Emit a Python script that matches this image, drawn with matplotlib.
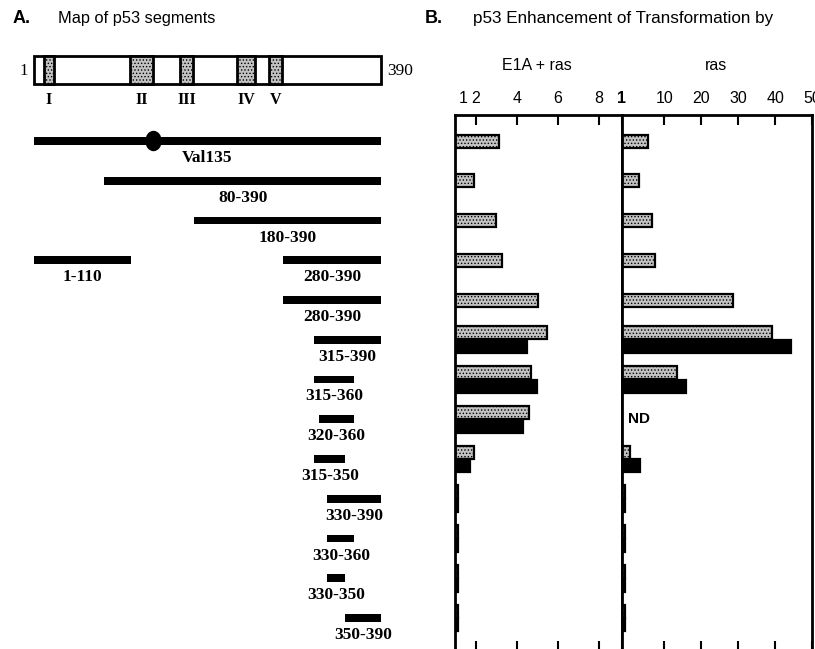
import matplotlib
matplotlib.use('Agg')
import matplotlib.pyplot as plt
from matplotlib.patches import Rectangle, Ellipse

plt.rcParams['font.family'] = ['Liberation Sans', 'DejaVu Sans']
plt.rcParams['hatch.color'] = '#6e6e6e'
plt.rcParams['hatch.linewidth'] = 0.6

# ---- panel A: p53 segments (residue numbers) ----
seg_row = [0, 1, 2, 3, 3, 4, 5, 6, 7, 8, 9, 10, 11, 12]
seg_start = [1, 80, 180, 1, 280, 280, 315, 315, 320, 315, 330, 330, 330, 350]
seg_end = [390, 390, 390, 110, 390, 390, 390, 360, 360, 350, 390, 360, 350, 390]
seg_label = ['Val135', '80-390', '180-390', '1-110', '280-390', '280-390',
             '315-390', '315-360', '320-360', '315-350', '330-390',
             '330-360', '330-350', '350-390']
mutation_site = 135
protein_len = 390

domain_names = ['I', 'II', 'III', 'IV', 'V']
domain_start = [12, 109, 165, 229, 264]
domain_end = [23, 134, 179, 249, 279]

# ---- panel B: enhancement of transformation (None = no bar) ----
rows = list(range(13))
e1a_gray = [3.1, 1.9, 2.95, 3.25, 5.0, 5.45, 4.7, 4.6, 1.9, 1.1, 1.1, 1.1, 1.1]
e1a_black = [None, None, None, None, None, 4.5, 4.95, 4.3, 1.7, 1.1, 1.1, 1.1, 1.1]
ras_gray = [5.6, 3.1, 6.6, 7.5, 28.6, 39.2, 13.4, None, 0.7, -0.6, -0.6, -0.6, -0.6]
ras_black = [None, None, None, None, None, 44.3, 15.9, None, 3.4, -0.6, -0.6, -0.6, -0.6]
nd_row = 7

e1a_ticks = [2, 4, 6, 8]
ras_ticks = [10, 20, 30, 40, 50]

W, H = 815, 649
GRAY = '#c2c2c2'


def fx(x):
    return x / W


def fy(y):
    return 1 - y / H


fig = plt.figure(figsize=(W / 100, H / 100), dpi=100)

# rows: row 0 at y=141px, 39.75px apart
row0, drow = 141, 39.75


def row_lim(top_px, bot_px):
    return ((bot_px - row0) / drow, (top_px - row0) / drow)


# ---------- panel A ----------
scale = 347 / 389
ax_a = fig.add_axes([0, 0, fx(440), 1])
ax_a.set_xlim((0 - 34) / scale + 1, (440 - 34) / scale + 1)
ax_a.set_ylim(*row_lim(0, H))
ax_a.axis('off')

box_y, box_h = (56 - row0) / drow, 28 / drow
ax_a.add_patch(Rectangle((1, box_y), protein_len - 1, box_h, facecolor='white',
                         edgecolor='black', lw=2))
for name, s, e in zip(domain_names, domain_start, domain_end):
    ax_a.add_patch(Rectangle((s, box_y), e - s, box_h, facecolor=GRAY,
                             hatch='.....', edgecolor='black', lw=2))
    ax_a.text((s + e) / 2, (103.5 - row0) / drow, name, ha='center', va='baseline',
              family='Liberation Serif', weight='bold', fontsize=11.5)
ax_a.text(-5.5, (75 - row0) / drow, '1', ha='right', va='baseline',
          family='Liberation Serif', fontsize=12)
ax_a.text(396.5, (75 - row0) / drow, str(protein_len), ha='left', va='baseline',
          family='Liberation Serif', fontsize=12.5)

bar_h = 7.7 / drow
for r, s, e, lab in zip(seg_row, seg_start, seg_end, seg_label):
    ax_a.barh(r, e - s, left=s, height=bar_h, color='black')
    ax_a.text((s + e) / 2, r + 21 / drow, lab, ha='center', va='baseline',
              family='Liberation Serif', weight='bold', fontsize=12.5)
ax_a.add_patch(Ellipse((mutation_site, 0), 15 / scale, 19 / drow, color='black'))

fig.text(fx(13), fy(23), 'A.', weight='bold', fontsize=13, va='baseline')
fig.text(fx(58), fy(22.5), 'Map of p53 segments', fontsize=11.8, va='baseline')

# ---------- panel B ----------
fig.text(fx(425), fy(23), 'B.', weight='bold', fontsize=13, va='baseline')
fig.text(fx(473), fy(23), 'p53 Enhancement of Transformation by', fontsize=12.3,
         va='baseline')

top_px, bot_px = 115, 651
ax_l = fig.add_axes([fx(455), fy(bot_px), fx(622 - 455), (bot_px - top_px) / H])
ax_r = fig.add_axes([fx(622), fy(bot_px), fx(812 - 622), (bot_px - top_px) / H])

L_BASE, R_BASE = 0.97, -1.5
ax_l.set_xlim(L_BASE, 9.12)
ax_r.set_xlim(R_BASE, 50)

bh, off = 13 / drow, 6.8 / drow


def draw_bars(ax, gray, black, base):
    for r, g, b in zip(rows, gray, black):
        if b is None:
            if g is not None:
                ax.barh(r, g - base, left=base, height=bh, facecolor=GRAY,
                        hatch='.....', edgecolor='black', lw=1.6)
        else:
            if g is not None:
                ax.barh(r - off, g - base, left=base, height=bh, facecolor=GRAY,
                        hatch='.....', edgecolor='black', lw=1.6)
            ax.barh(r + off, b - base, left=base, height=bh, facecolor='black',
                    edgecolor='black', lw=1.6)


draw_bars(ax_l, e1a_gray, e1a_black, L_BASE)
draw_bars(ax_r, ras_gray, ras_black, R_BASE)
ax_r.text(0.2, nd_row, 'ND', ha='left', va='center', weight='bold', fontsize=11)

for ax in (ax_l, ax_r):
    ax.set_ylim(*row_lim(top_px, bot_px))
    ax.set_yticks([])
    for sp in ax.spines.values():
        sp.set_linewidth(2)
    ax.tick_params(axis='x', direction='in', top=True, bottom=True,
                   labeltop=True, labelbottom=False, length=7.5, width=1.5,
                   pad=6.5, labelsize=11.5)

ax_l.set_xticks(e1a_ticks)
ax_r.set_xticks([R_BASE] + ras_ticks)
ax_r.set_xticklabels(['1'] + [str(t) for t in ras_ticks])
ax_r.get_xticklabels()[0].set_weight('bold')
ax_l.annotate('1', xy=(1.35, 1), xycoords=('data', 'axes fraction'),
              xytext=(0, 6.5), textcoords='offset points', ha='center',
              va='bottom', fontsize=11.5)

fig.text(fx(537), fy(70.5), 'E1A + ras', ha='center', va='baseline', fontsize=11.5)
fig.text(fx(716), fy(70.5), 'ras', ha='center', va='baseline', fontsize=11.5)

fig.savefig('out.png', dpi=100)
